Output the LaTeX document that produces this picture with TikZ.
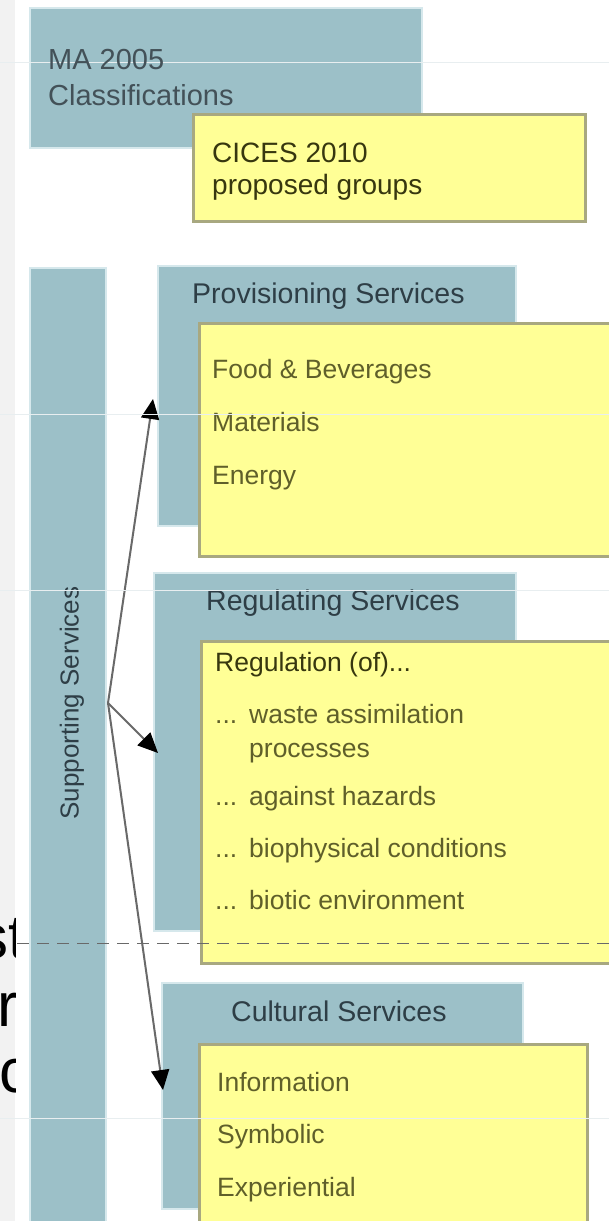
\documentclass[tikz,border=0pt]{standalone}
\usepackage{fontspec}
\setmainfont{Liberation Sans}
\usetikzlibrary{arrows.meta}
\definecolor{boxblue}{RGB}{156,192,200}
\definecolor{boxblueedge}{RGB}{214,232,236}
\definecolor{boxyellow}{RGB}{255,255,150}
\definecolor{yborder}{RGB}{168,168,128}
\definecolor{bluetext}{RGB}{46,62,70}
\definecolor{oltext}{RGB}{95,95,42}
\definecolor{darkol}{RGB}{55,55,15}
\definecolor{arrowgray}{RGB}{105,105,105}
\definecolor{stripgray}{RGB}{242,242,242}
\definecolor{faint}{RGB}{232,238,240}
\begin{document}
\begin{tikzpicture}[x=1pt,y=-1pt,
  bluebox/.style={fill=boxblue, draw=boxblueedge, line width=1.5pt, anchor=north west, inner sep=0pt},
  yellowbox/.style={fill=boxyellow, draw=yborder, line width=2.5pt, anchor=north west, inner sep=0pt},
  headtext/.style={anchor=base west, inner sep=0pt, text=bluetext, font=\fontsize{28.5}{30}\selectfont},
  titletext/.style={anchor=base west, inner sep=0pt, text=darkol, font=\fontsize{28}{30}\selectfont},
  itemtext/.style={anchor=base west, inner sep=0pt, text=oltext, font=\fontsize{26.5}{28}\selectfont},
  bigtext/.style={anchor=base west, inner sep=0pt, text=black, font=\fontsize{62}{66}\selectfont},
  conn/.style={draw=arrowgray, line width=2pt, -{Triangle[length=20pt,width=18pt,color=black,fill=black]}},
  scanline/.style={draw=faint, line width=1pt}
]
\useasboundingbox (0,0) rectangle (609,1221);
\clip (0,0) rectangle (609,1221);
\fill[white] (0,0) rectangle (609,1221);
\fill[stripgray] (0,0) rectangle (15,1221);
\begin{scope}
  \clip (0,0) rectangle (15,1221);
  \node[bigtext] (frag1) at (-23,958) {st};
  \node[bigtext] (frag2) at (-3,1026) {r};
  \node[bigtext] (frag3) at (-1,1092) {c};
\end{scope}

% top legend
\node[bluebox, minimum width=392pt, minimum height=140pt] (ma) at (29,7) {};
\draw[scanline] (0,62) -- (609,62);
\node[headtext, text=bluetext!90!white, font=\fontsize{29}{30}\selectfont] (maa) at (48,69) {MA 2005};
\node[headtext, text=bluetext!90!white, font=\fontsize{29}{30}\selectfont] (mab) at (48,105) {Classifications};
\node[yellowbox, minimum width=392pt, minimum height=107pt] (cices) at (192,113) {};
\node[titletext] (cicesa) at (212,162) {CICES 2010};
\node[titletext] (cicesb) at (212,194) {proposed groups};

% supporting column
\node[bluebox, minimum width=76pt, minimum height=960pt] (sup) at (29,267) {};
\node[rotate=90, inner sep=0pt, text=bluetext, font=\fontsize{26}{28}\selectfont] (suptext) at (72,703) {Supporting Services};

% blue boxes
\node[bluebox, minimum width=358pt, minimum height=260pt] (prov) at (157,265) {};
\node[headtext] (provt) at (192,303) {Provisioning Services};
\node[bluebox, minimum width=362pt, minimum height=358pt] (reg) at (153,572) {};
\node[headtext] (regt) at (206,610) {Regulating Services};
\node[bluebox, minimum width=361pt, minimum height=226pt] (cult) at (161,982) {};
\node[headtext] (cultt) at (231,1021) {Cultural Services};

% yellow boxes
\node[yellowbox, minimum width=420pt, minimum height=233pt] (provy) at (198,322) {};
\node[itemtext] (p1) at (212,378) {Food \& Beverages};
\node[itemtext] (p2) at (212,431) {Materials};
\node[itemtext] (p3) at (212,484) {Energy};

\node[yellowbox, minimum width=420pt, minimum height=322pt] (regy) at (200,640) {};
\node[itemtext, text=darkol] (r0) at (215,671) {Regulation (of)...};
\node[itemtext] (r1d) at (215,723) {...};
\node[itemtext] (r1) at (249,723) {waste assimilation};
\node[itemtext] (r1b) at (249,757) {processes};
\node[itemtext] (r2d) at (215,805) {...};
\node[itemtext] (r2) at (249,805) {against hazards};
\node[itemtext] (r3d) at (215,857) {...};
\node[itemtext] (r3) at (249,857) {biophysical conditions};
\node[itemtext] (r4d) at (215,909) {...};
\node[itemtext] (r4) at (249,909) {biotic environment};

\node[yellowbox, minimum width=388pt, minimum height=190pt] (culty) at (198,1043) {};
\node[itemtext] (c1) at (217,1091) {Information};
\node[itemtext] (c2) at (217,1143) {Symbolic};
\node[itemtext] (c3) at (217,1196) {Experiential};

% connectors
\coordinate (src) at (108,703);
\coordinate (tprov) at (153,399);
\coordinate (treg) at (158,753);
\coordinate (tcult) at (163,1090);
\draw[conn] (src) -- (tprov);
\draw[conn] (src) -- (treg);
\draw[conn] (src) -- (tcult);

% scan artefacts
\draw[scanline] (0,414) -- (609,414);
\draw[scanline] (0,590) -- (609,590);
\draw[scanline] (0,1118) -- (609,1118);
\draw[draw=arrowgray, line width=1pt, dash pattern=on 12pt off 8pt] (17,943) -- (609,943);
\end{tikzpicture}
\end{document}
